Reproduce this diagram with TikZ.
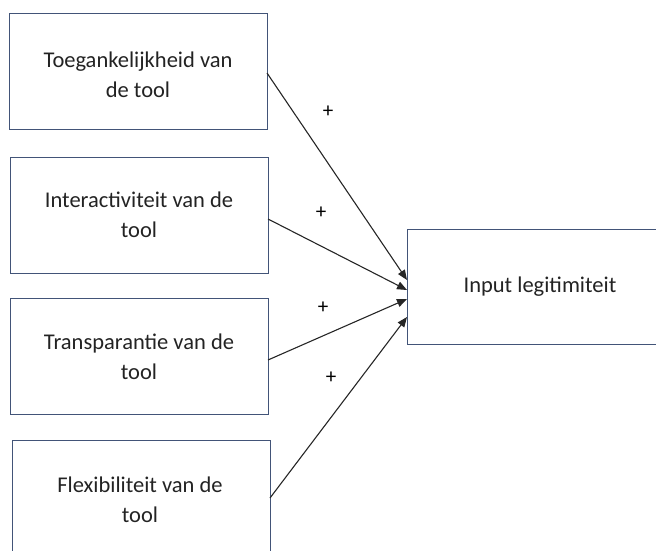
\documentclass[tikz,border=0pt]{standalone}
\usepackage{fontspec}
\setmainfont{Carlito}
\usetikzlibrary{arrows.meta}
\definecolor{boxline}{RGB}{66,84,120}
\definecolor{txt}{RGB}{35,35,35}
\tikzset{
  factor/.style={draw=boxline, line width=1.2pt, minimum width=258pt, minimum height=116pt, inner sep=0pt},
  label/.style={font=\fontsize{22.5}{30}\selectfont, text=txt, align=center},
  link/.style={line width=1.1pt, draw=black!85, -{Triangle[length=10pt,width=8pt]}},
  sign/.style={font=\fontsize{21}{22}\selectfont, inner sep=0pt}
}
\begin{document}
\begin{tikzpicture}[x=1pt,y=-1pt]
\clip (0,0) rectangle (656,551);
\useasboundingbox (0,0) rectangle (656,551);
\node[factor, anchor=north west] (a) at (9,13) {};
\node[factor, anchor=north west] (b) at (10,157) {};
\node[factor, anchor=north west] (c) at (10,298) {};
\node[factor, anchor=north west] (d) at (12,440) {};
\node[factor, anchor=north west, minimum width=270pt, minimum height=115pt] (e) at (407,229) {};
\node[label] (ta) at (138,75) {Toegankelijkheid van\\de tool};
\node[label] (tb) at (139,215) {Interactiviteit van de\\tool};
\node[label] (tc) at (139,357) {Transparantie van de\\tool};
\node[label] (td) at (140,500) {Flexibiliteit van de\\tool};
\node[label] (te) at (540,287) {Input legitimiteit};
\coordinate (a1) at (267,73);
\coordinate (b1) at (268,219);
\coordinate (c1) at (268,360);
\coordinate (d1) at (270,498);
\coordinate (e1) at (407,280);
\coordinate (e2) at (407,290);
\coordinate (e3) at (407,299);
\coordinate (e4) at (407,317);
\draw[link] (a1) -- (e1);
\draw[link] (b1) -- (e2);
\draw[link] (c1) -- (e3);
\draw[link] (d1) -- (e4);
\node[sign] (p1) at (328,112) {+};
\node[sign] (p2) at (321,213) {+};
\node[sign] (p3) at (323,308) {+};
\node[sign] (p4) at (331,378) {+};
\end{tikzpicture}
\end{document}
